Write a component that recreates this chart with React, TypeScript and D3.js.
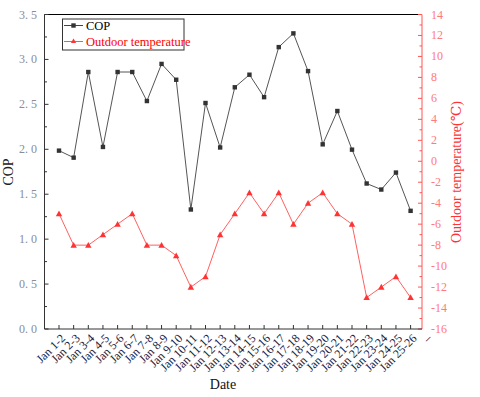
import React from "react";
import * as d3 from "d3";

const dates = ["Jan 1-2","Jan 2-3","Jan 3-4","Jan 4-5","Jan 5-6","Jan 6-7","Jan 7-8","Jan 8-9","Jan 9-10","Jan 10-11","Jan 11-12","Jan 12-13","Jan 13-14","Jan 14-15","Jan 15-16","Jan 16-17","Jan 17-18","Jan 18-19","Jan 19-20","Jan 20-21","Jan 21-22","Jan 22-23","Jan 23-24","Jan 24-25","Jan 25-26","–"];
const cop = [1.985,1.907,2.86,2.026,2.86,2.86,2.537,2.95,2.774,1.33,2.515,2.02,2.69,2.83,2.58,3.137,3.29,2.87,2.055,2.426,1.996,1.619,1.552,1.741,1.315];
const temp = [-5,-8,-8,-7,-6,-5,-8,-8,-9,-12,-11,-7,-5,-3,-5,-3,-6,-4,-3,-5,-6,-13,-12,-11,-13];
const leftTicks = [0,0.5,1,1.5,2,2.5,3,3.5];
const rightTicks = [-16,-14,-12,-10,-8,-6,-4,-2,0,2,4,6,8,10,12,14];

const L = 44.5, R = 422, T = 14.5, B = 329;

export default function App() {
  const xs = d3.scaleLinear().domain([0, 24]).range([59, 410.6]);
  const yL = d3.scaleLinear().domain([0, 3.5]).range([B, T]);
  const yR = d3.scaleLinear().domain([-16, 14]).range([B, T]);
  const copLine = d3.line<number>().x((_, i) => xs(i)).y(d => yL(d));
  const tLine = d3.line<number>().x((_, i) => xs(i)).y(d => yR(d));
  const minorL = d3.range(0.25, 3.5, 0.5);
  const minorR = d3.range(-15, 14, 2);
  const serif = "Liberation Serif, DejaVu Serif, serif";
  const tri = (cx: number, cy: number, s = 3.2) =>
    `M${cx},${cy - s}L${cx + s},${cy + s * 0.8}L${cx - s},${cy + s * 0.8}Z`;
  return (
    <svg width={480} height={397} style={{ position: "absolute", left: 0, top: 0, background: "#fff", fontFamily: serif }}>
      <line x1={L} x2={R} y1={T} y2={T} stroke="#000" strokeWidth={1} />
      <line x1={L} x2={L} y1={T} y2={B} stroke="#333" strokeWidth={1} />
      {leftTicks.map(t => (
        <g key={t}>
          <line x1={L} x2={L + 4} y1={yL(t)} y2={yL(t)} stroke="#333" />
          <text x={37} y={yL(t) + 4} textAnchor="end" fontSize={12} fill="#8a8c99" style={{ fontFamily: serif }}>{d3.format(".1f")(t).replace(".", ". ")}</text>
        </g>
      ))}
      {minorL.map(t => (
        <line key={t} x1={L} x2={L + 2.5} y1={yL(t)} y2={yL(t)} stroke="#333" />
      ))}
      <line x1={R} x2={R} y1={T} y2={B} stroke="#f55" strokeWidth={1} />
      {rightTicks.map(t => (
        <g key={t}>
          <line x1={R} x2={R - 4} y1={yR(t)} y2={yR(t)} stroke="#f55" />
          <text x={431} y={yR(t) + 4} fontSize={12} fill="#ff7a7a" style={{ fontFamily: serif }}>{t}</text>
        </g>
      ))}
      {minorR.map(t => (
        <line key={t} x1={R} x2={R - 2.5} y1={yR(t)} y2={yR(t)} stroke="#f55" />
      ))}
      <line x1={L} x2={R} y1={B} y2={B} stroke="#333" strokeWidth={1} />
      {dates.map((d, i) => (
        <g key={d + i}>
          {i < 25 && <line x1={xs(i)} x2={xs(i)} y1={B} y2={B - 4} stroke="#333" />}
          <text transform={`translate(${xs(i) + 7},${B + 10}) rotate(-45)`} textAnchor="end" fontSize={12} fill="#1a1a40" style={{ fontFamily: serif }}>{d}</text>
        </g>
      ))}
      <path d={tLine(temp) || ""} fill="none" stroke="#ff6060" strokeWidth={1} />
      {temp.map((t, i) => <path key={i} d={tri(xs(i), yR(t))} fill="#f33" />)}
      <path d={copLine(cop) || ""} fill="none" stroke="#555" strokeWidth={1} />
      {cop.map((c, i) => <rect key={i} x={xs(i) - 2.2} y={yL(c) - 2.2} width={4.4} height={4.4} fill="#333" />)}
      <rect x={62.5} y={19} width={121.5} height={31} fill="#fff" stroke="#333" strokeWidth={1} />
      <line x1={64} x2={83} y1={25.5} y2={25.5} stroke="#444" />
      <rect x={71.3} y={23.3} width={4.4} height={4.4} fill="#333" />
      <text x={86} y={30} fontSize={12.5} fill="#000" style={{ fontFamily: serif }}>COP</text>
      <line x1={64} x2={83} y1={41.5} y2={41.5} stroke="#f55" />
      <path d={tri(73.5, 41, 2.6)} fill="#f33" />
      <text x={86} y={45.5} fontSize={12.5} fill="#f00" style={{ fontFamily: serif }}>Outdoor temperature</text>
      <text transform="translate(13,172) rotate(-90)" textAnchor="middle" fontSize={14} fill="#222" style={{ fontFamily: serif }}>COP</text>
      <text transform="translate(461,172) rotate(-90)" textAnchor="middle" fontSize={14} fill="#f33" style={{ fontFamily: serif }}>Outdoor temperature(℃)</text>
      <text x={223} y={389} textAnchor="middle" fontSize={14} fill="#111" style={{ fontFamily: serif }}>Date</text>
    </svg>
  );
}
